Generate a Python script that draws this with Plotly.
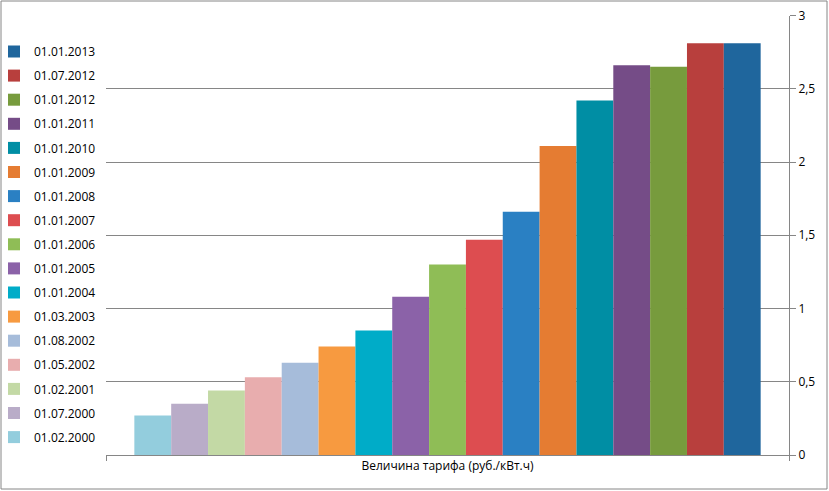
import plotly.graph_objects as go

category = "Величина тарифа (руб./кВт.ч)"
dates = ["01.02.2000", "01.07.2000", "01.02.2001", "01.05.2002", "01.08.2002",
         "01.03.2003", "01.01.2004", "01.01.2005", "01.01.2006", "01.01.2007",
         "01.01.2008", "01.01.2009", "01.01.2010", "01.01.2011", "01.01.2012",
         "01.07.2012", "01.01.2013"]
values = [0.27, 0.35, 0.44, 0.53, 0.63, 0.74, 0.85, 1.08, 1.30, 1.47,
          1.66, 2.11, 2.42, 2.66, 2.65, 2.81, 2.81]
colors = ["#93CDDD", "#B9ACC8", "#C3D9A5", "#E8ADAE", "#A6BCDA",
          "#F79A40", "#00ACC8", "#8B62A8", "#8FBD56", "#DD4D50",
          "#2A80C3", "#E57C32", "#008EA4", "#754C87", "#779B3D",
          "#B83F3D", "#1F669D"]
y_ticks = [0, 0.5, 1, 1.5, 2, 2.5, 3]

W, H = 829, 491
px_left, px_right, px_top, px_bottom = 106, 789, 15.5, 455

fig = go.Figure()
n = len(dates)
for i, (d, v, c) in enumerate(zip(dates, values, colors)):
    fig.add_trace(go.Bar(x=[category], y=[v], name=d, marker_color=c,
                         marker_line_width=0, legendgroup=str(i),
                         legendrank=n - i))

font = "Open Sans, Noto Sans, sans-serif"
fig.update_layout(
    width=W, height=H,
    margin=dict(l=0, r=0, t=0, b=0, autoexpand=False),
    paper_bgcolor="white", plot_bgcolor="white",
    barmode="group", bargap=0.083, bargroupgap=0,
    separators=", ",
    font=dict(family=font, size=12, color="#000000"),
    showlegend=True,
    legend=dict(x=-6 / W, xanchor="left", y=1 - 37 / H, yanchor="top",
                traceorder="grouped", tracegroupgap=5.1,
                font=dict(family=font, size=12, color="#000000"),
                bgcolor="rgba(0,0,0,0)"),
    xaxis=dict(domain=[px_left / W, px_right / W],
               showline=True, linecolor="#868686", linewidth=1,
               ticks="outside", tickson="boundaries", ticklen=5, tickcolor="#868686",
               tickfont=dict(family=font, size=12, color="#000000"), showgrid=False),
    yaxis=dict(domain=[1 - px_bottom / H, 1 - px_top / H],
               side="right", range=[0, 3], tickvals=y_ticks, showline=True,
               linecolor="#868686", linewidth=1, ticks="outside", ticklen=6,
               tickcolor="#868686", showgrid=True, gridcolor="#868686", gridwidth=1,
               tickfont=dict(family=font, size=12, color="#000000"), zeroline=False),
    shapes=[dict(type="rect", xref="paper", yref="paper",
                 x0=1 / W, x1=1 - 2 / W, y0=2 / H, y1=1 - 1 / H,
                 line=dict(color="#868686", width=1), layer="below")],
)

fig.write_html("out.html", config={"displayModeBar": False},
               post_script="document.body.style.margin='0px';")
